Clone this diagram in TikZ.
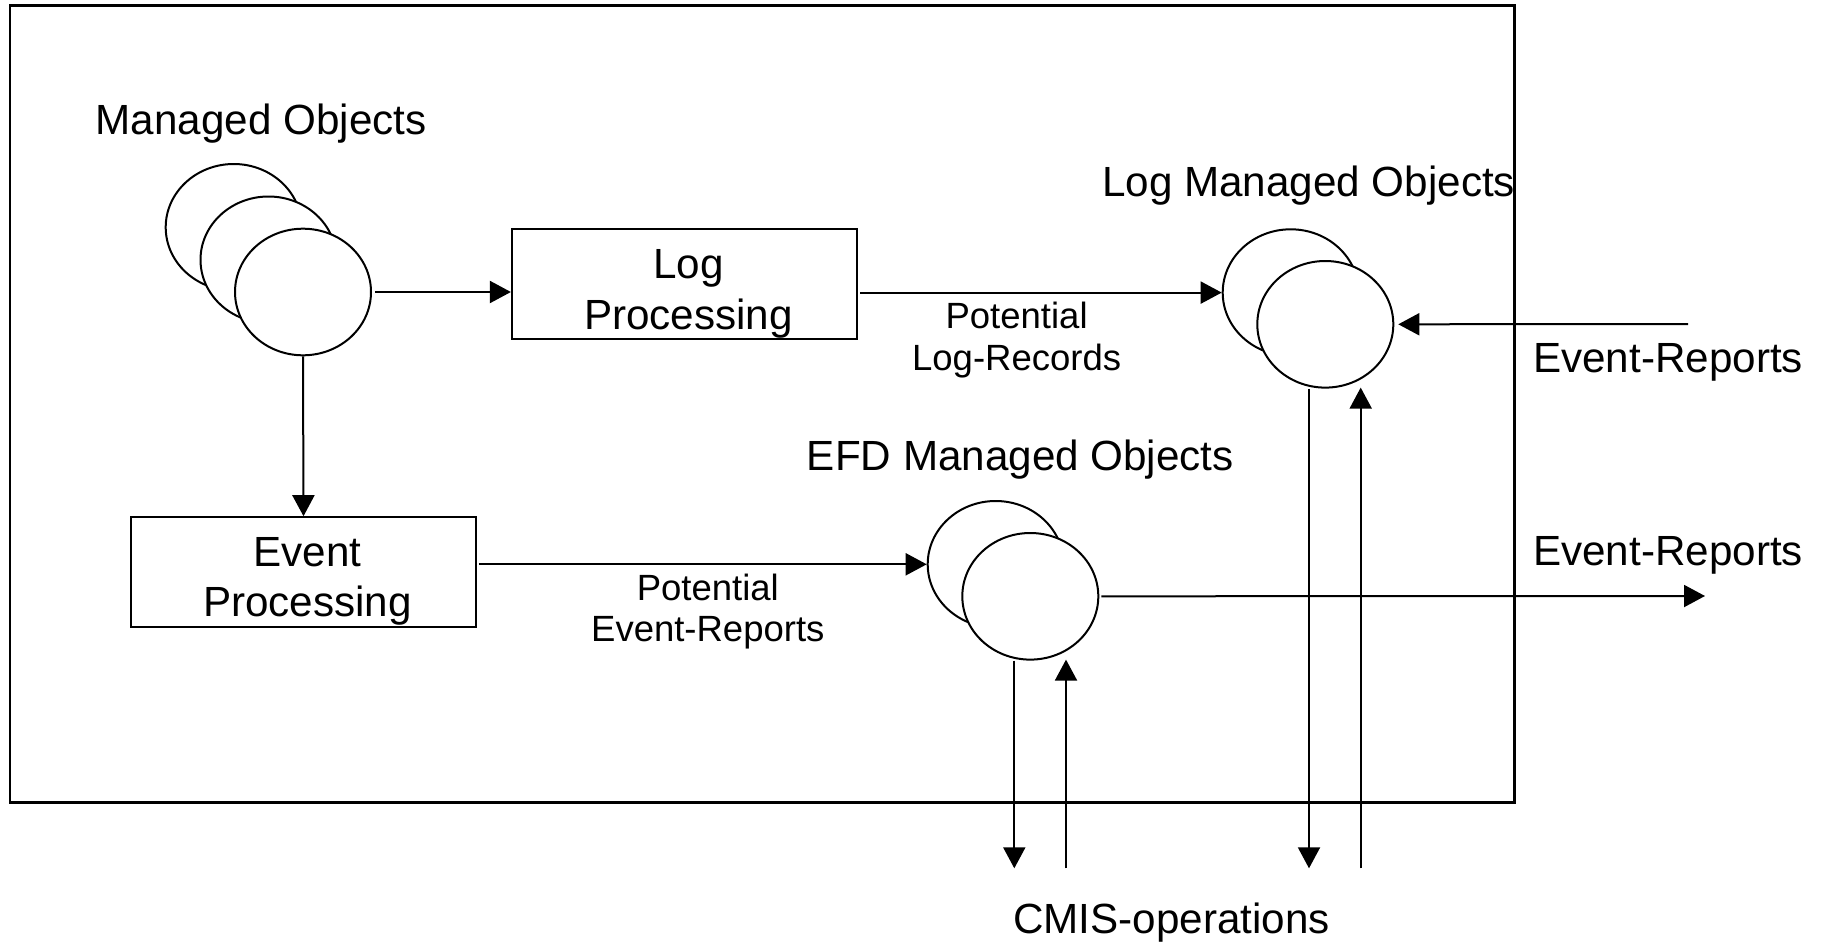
\documentclass[tikz,border=0pt]{standalone}
\usepackage{fontspec}
\setmainfont{Liberation Sans}
\usetikzlibrary{arrows.meta,shapes.geometric}
\begin{document}
\begin{tikzpicture}[x=1pt,y=-1pt,
  mo/.style={draw, ellipse, line width=2pt, fill=white, minimum width=136pt, minimum height=126.6pt, inner sep=0pt},
  procbox/.style={draw, line width=2.2pt, minimum width=344pt, minimum height=110pt, inner sep=0pt},
  big/.style={font=\fontsize{42.2}{50.7}\selectfont, inner sep=0pt},
  small/.style={font=\fontsize{36.5}{42}\selectfont, inner sep=0pt},
  arr/.style={line width=2pt, -{Triangle[length=21pt,width=22pt]}},
  plain/.style={line width=2pt}
]
\useasboundingbox (0,0) rectangle (1828,942);
% frame
\draw[line width=2.5pt] (10,5.3) rectangle (1514.3,802.7);

% Managed Objects
\node[big, anchor=base west] (motxt) at (95.6,134) {Managed Objects};
\node[mo] (mo1) at (233.7,227.3) {};
\node[mo] (mo2) at (268.5,259.8) {};
\node[mo] (mo3) at (303,292) {};

% Log processing box
\node[procbox, minimum width=345pt] (lp) at (684.5,284.3) {};
\node[big, anchor=base] (lpt1) at (688.5,278.3) {Log};
\node[big, anchor=base] (lpt2) at (688.5,329) {Processing};

% Event processing box
\node[procbox, minimum width=344.4pt, minimum height=109.4pt] (ep) at (303.5,572) {};
\node[big, anchor=base] (ept1) at (307.5,566) {Event};
\node[big, anchor=base] (ept2) at (307.5,616.7) {Processing};

% Log Managed Objects
\node[big, anchor=base west] (logtxt) at (1102,196.7) {Log Managed Objects};
\node[mo] (log1) at (1290.7,292.6) {};
\node[mo] (log2) at (1325.3,324.3) {};

% EFD Managed Objects
\node[big, anchor=base west] (efdtxt) at (806.7,470) {EFD Managed Objects};
\node[mo] (efd1) at (995.7,564.3) {};
\node[mo] (efd2) at (1030.3,596.3) {};

% labels
\node[small, anchor=base] (pl1) at (1016.6,328.3) {Potential};
\node[small, anchor=base] (pl2) at (1016.6,370) {Log-Records};
\node[small, anchor=base] (pe1) at (707.8,600) {Potential};
\node[small, anchor=base] (pe2) at (707.8,641.7) {Event-Reports};
\node[big, anchor=base west] (erin) at (1533,372.7) {Event-Reports};
\node[big, anchor=base west] (erout) at (1533,565) {Event-Reports};
\node[big, anchor=base west] (cmis) at (1013,933.3) {CMIS-operations};

% free ends
\coordinate (inER) at (1688,324);
\coordinate (outER) at (1705,596);
\coordinate (c1) at (1014.3,868.3);
\coordinate (c2) at (1066,868.3);
\coordinate (c3) at (1309,868.3);
\coordinate (c4) at (1360.7,868.3);

% connectors
\draw[arr] ([xshift=3pt]mo3.east) -- (lp.west |- mo3.east);
\draw[arr] (mo3.south) -- (ep.north);
\draw[arr] ([xshift=2pt]lp.east |- log1.west) -- (log1.west);
\draw[arr] ([xshift=2pt]ep.east |- efd1.west) -- (efd1.west);
\draw[arr] (inER) -- ([xshift=4pt]log2.east);
\draw[arr] ([xshift=2pt]efd2.east) -- (outER);
\draw[arr] (efd2.south -| c1) -- (c1);
\draw[arr] (c2) -- ([yshift=1pt]efd2.south -| c2);
\draw[arr] (log2.south -| c3) -- (c3);
\draw[arr] (c4) -- ([yshift=1pt]log2.south -| c4);
\end{tikzpicture}
\end{document}
